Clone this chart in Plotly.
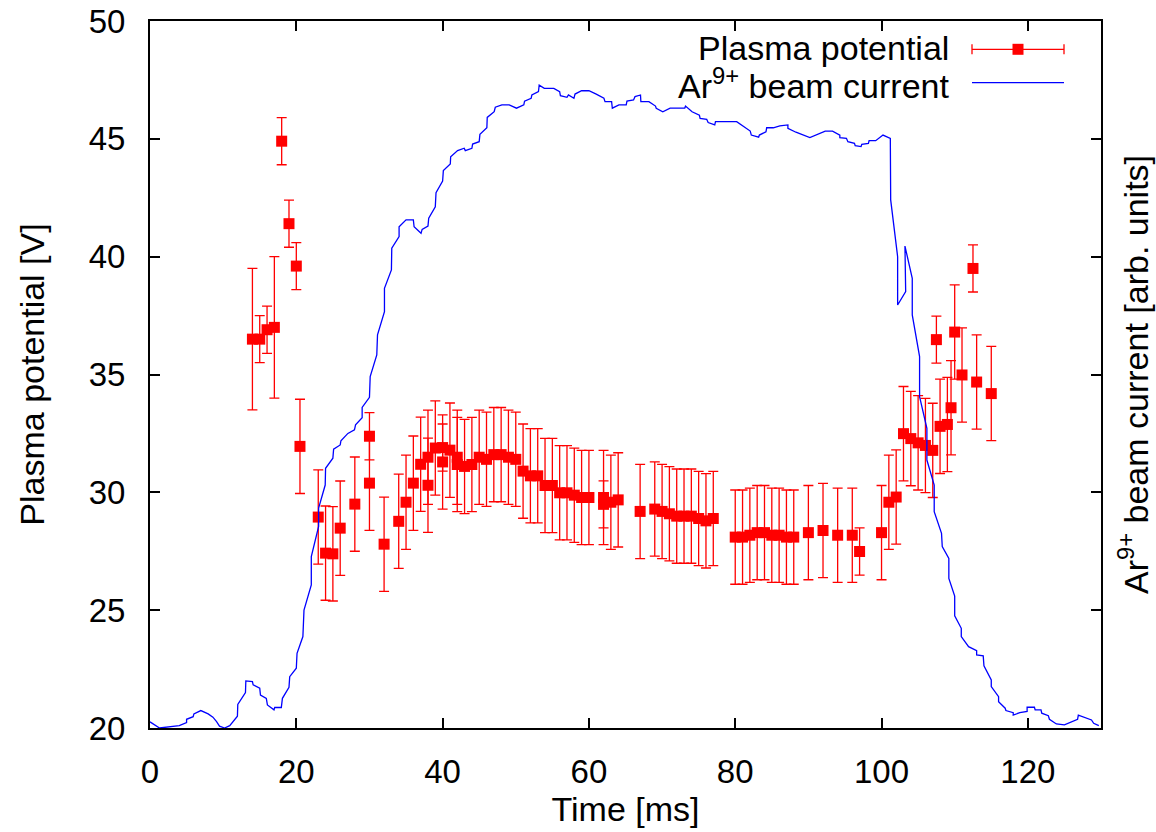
import plotly.graph_objects as go

# ---- Plasma potential measurements ----
pp_time = [14, 15, 16, 17, 18, 19, 20, 20.5, 23, 24, 25, 26, 28, 30, 30, 32, 34, 35, 36, 37,
           38, 38, 39, 40, 40, 41, 42, 42, 43, 44, 45, 46, 47, 48, 49, 50, 51, 52, 53, 54,
           55, 56, 57, 58, 59, 60, 62, 62, 63, 64, 67, 69, 70, 71, 72, 73, 74, 75, 76, 77,
           80, 81, 82, 83, 84, 85, 86, 87, 88, 90, 92, 94, 96, 97, 100, 101, 102, 103, 104, 105,
           106, 107, 107.5, 108, 109, 109.5, 110, 111, 112.5, 113, 115]
pp_value = [36.5, 36.5, 36.9, 37.0, 44.9, 41.4, 39.6, 31.95, 28.95, 27.42, 27.39, 28.48, 29.5, 32.38, 30.39, 27.8, 28.77, 29.58, 30.39, 31.19,
            30.3, 31.49, 31.88, 31.9, 31.29, 31.79, 31.49, 31.18, 31.1, 31.18, 31.49, 31.4, 31.6, 31.6, 31.49, 31.4, 30.9, 30.7, 30.7, 30.29,
            30.29, 29.98, 29.98, 29.88, 29.78, 29.78, 29.78, 29.49, 29.58, 29.68, 29.19, 29.29, 29.19, 29.09, 28.99, 28.99, 28.99, 28.89, 28.79, 28.89,
            28.1, 28.1, 28.18, 28.29, 28.29, 28.18, 28.18, 28.1, 28.1, 28.29, 28.38, 28.18, 28.18, 27.49, 28.29, 29.58, 29.8, 32.49, 32.28, 32.1,
            31.99, 31.78, 36.48, 32.8, 32.88, 33.59, 36.8, 34.98, 39.5, 34.68, 34.19]
pp_error = [3, 1, 1, 3, 1, 1, 1, 2, 2, 2, 2, 2, 2, 1, 2, 2, 2, 2, 2, 2,
            2, 2, 2, 1, 2, 2, 2, 2, 2, 2, 2, 2, 2, 2, 2, 2, 2, 2, 2, 2,
            2, 2, 2, 2, 2, 2, 2, 1, 2, 2, 2, 2, 2, 2, 2, 2, 2, 2, 2, 2,
            2, 2, 2, 2, 2, 2, 2, 2, 2, 2, 2, 2, 2, 1, 2, 2, 2, 2, 2, 2,
            2, 2, 1, 2, 2, 2, 2, 2, 1, 2, 2]

# ---- Ar9+ beam current (arb. units, plotted on right axis scaled 20..50) ----
bc_time = [0.0, 1.3, 4.0, 5.0, 5.0, 5.9, 6.0, 6.95, 7.95, 8.6, 9.1, 9.5, 10.2, 10.9, 11.95, 12.0, 13.05, 13.1,
           14.0, 14.1, 15.0, 15.1, 15.9, 16.05, 16.95, 17.05, 17.95, 18.1, 19.0, 19.1, 20.0, 20.1, 20.9, 21.05,
           22.05, 22.05, 23.05, 23.05, 23.95, 24.0, 25.0, 25.1, 26.0, 26.1, 27.05, 27.95, 28.1, 29.0, 29.0, 30.0,
           30.1, 31.0, 31.1, 32.05, 32.05, 33.0, 33.05, 34.05, 34.05, 35.0, 36.0, 36.1, 37.05, 37.2, 38.0, 38.1,
           39.0, 39.1, 40.0, 40.1, 41.05, 41.1, 42.05, 42.95, 43.1, 44.0, 44.1, 45.0, 45.1, 46.05, 46.1, 47.05,
           47.2, 48.1, 49.1, 50.1, 51.1, 51.2, 52.1, 52.2, 53.1, 53.2, 53.9, 55.2, 56.0, 56.1, 57.0, 57.2, 57.95,
           58.1, 59.0, 60.0, 61.0, 62.05, 62.2, 63.1, 63.2, 64.1, 65.1, 65.2, 66.1, 66.3, 67.05, 67.1, 68.2, 69.1,
           69.2, 70.1, 71.1, 73.1, 73.2, 74.1, 75.1, 75.2, 76.1, 76.3, 77.2, 77.3, 80.2, 81.1, 82.05, 82.2, 83.2,
           83.3, 84.2, 84.3, 85.2, 86.1, 87.2, 87.2, 88.3, 90.2, 92.3, 93.3, 94.3, 94.3, 95.2, 95.4, 96.3, 96.4,
           97.2, 97.3, 98.2, 98.3, 99.2, 100.2, 101.2, 101.25, 102.2, 102.2, 103.3, 103.2, 104.2, 104.2, 105.2,
           105.2, 106.2, 106.2, 107.2, 107.2, 108.2, 108.3, 109.2, 109.2, 110.0, 110.0, 110.9, 110.9, 111.9,
           113.0, 113.0, 113.9, 114.0, 115.0, 115.0, 116.0, 116.0, 116.9, 117.0, 118.0, 118.0, 118.9, 119.9,
           119.9, 120.9, 121.0, 121.8, 121.9, 122.8, 122.95, 123.9, 125.0, 125.9, 126.8, 126.9, 127.7, 128.7,
           129.0, 129.7]
bc_value = [20.26, 20.0, 20.1, 20.23, 20.37, 20.48, 20.6, 20.74, 20.6, 20.46, 20.27, 20.08, 20.0, 20.1, 20.5, 21.0, 21.5, 22.0,
            21.97, 21.83, 21.69, 21.4, 21.26, 20.98, 20.77, 20.87, 20.87, 21.26, 21.73, 22.18, 22.54, 23.17, 23.88, 25.0,
            26.07, 27.27, 28.55, 29.33, 30.31, 31.02, 31.45, 31.83, 32.01, 32.19, 32.5, 32.65, 32.86, 33.17, 33.6, 34.03,
            34.91, 35.83, 36.68, 37.67, 38.66, 39.44, 40.36, 40.85, 41.27, 41.56, 41.56, 41.27, 40.99, 41.16, 41.3, 41.63,
            42.12, 42.72, 43.21, 43.65, 43.93, 44.24, 44.5, 44.6, 44.5, 44.6, 44.78, 44.88, 45.19, 45.47, 45.91, 46.15,
            46.34, 46.44, 46.44, 46.3, 46.44, 46.6, 46.72, 46.86, 47.0, 47.28, 47.14, 47.14, 47.0, 46.83, 46.76, 46.86, 46.72,
            46.9, 47.04, 47.04, 46.9, 46.72, 46.58, 46.58, 46.3, 46.44, 46.44, 46.6, 46.65, 46.79, 46.86, 46.58, 46.58, 46.39,
            46.3, 46.15, 46.3, 46.3, 46.39, 46.15, 46.0, 45.87, 45.83, 45.69, 45.59, 45.73, 45.73, 45.52, 45.33, 45.16, 45.07,
            45.16, 45.3, 45.47, 45.47, 45.55, 45.59, 45.45, 45.28, 45.05, 45.33, 45.33, 45.16, 45.05, 45.02, 44.88, 44.81, 44.71,
            44.67, 44.77, 44.81, 44.92, 44.92, 45.16, 45.02, 42.41, 40.0, 37.95, 38.52, 40.45, 39.08, 37.53, 35.76,
            34.06, 32.72, 31.37, 30.31, 29.18, 28.26, 27.7, 27.2, 26.35, 25.6, 24.76, 24.23, 23.88, 23.45,
            23.28, 23.1, 23.06, 22.64, 22.04, 21.76, 21.33, 21.12, 20.84, 20.74, 20.65, 20.55, 20.65, 20.7,
            20.88, 20.88, 20.77, 20.77, 20.63, 20.52, 20.37, 20.17, 20.13, 20.24, 20.37, 20.55, 20.46, 20.34,
            20.2, 20.1]

x_ticks = [0, 20, 40, 60, 80, 100, 120]
y_ticks = [20, 25, 30, 35, 40, 45, 50]

FONT = "Liberation Sans, Arial, Helvetica, sans-serif"
RED = "#ff0000"
BLUE = "#0000ff"
TICK_SIZE = 33
TITLE_SIZE = 34

fig = go.Figure()

fig.add_trace(go.Scatter(
    x=pp_time, y=pp_value, mode="markers", name="Plasma potential",
    marker=dict(symbol="square", size=11, color=RED),
    error_y=dict(type="data", array=pp_error, visible=True, color=RED, thickness=1.3, width=5),
    showlegend=False, cliponaxis=False,
))

fig.add_trace(go.Scatter(
    x=bc_time, y=bc_value, mode="lines", name="Ar9+ beam current",
    line=dict(color=BLUE, width=1.3), yaxis="y2", showlegend=False,
))

L, R, T, B = 150, 1101, 21, 728
W, H = 1156, 832

def px(xp):
    return (xp - L) / (R - L)

def py(yp):
    return (B - yp) / (B - T)

shapes = []
# legend sample: plasma potential (error bar + marker)
ly1 = 49.3
shapes.append(dict(type="line", xref="paper", yref="paper", x0=px(972), x1=px(1064), y0=py(ly1), y1=py(ly1),
                   line=dict(color=RED, width=1.3)))
for xc in (972, 1064):
    shapes.append(dict(type="line", xref="paper", yref="paper", x0=px(xc), x1=px(xc), y0=py(ly1 - 5), y1=py(ly1 + 5),
                       line=dict(color=RED, width=1.3)))
shapes.append(dict(type="rect", xref="paper", yref="paper", x0=px(1018 - 5.5), x1=px(1018 + 5.5),
                   y0=py(ly1 + 5.5), y1=py(ly1 - 5.5), fillcolor=RED, line=dict(width=0)))
# legend sample: beam current
ly2 = 82.7
shapes.append(dict(type="line", xref="paper", yref="paper", x0=px(972), x1=px(1064), y0=py(ly2), y1=py(ly2),
                   line=dict(color=BLUE, width=1.3)))

annotations = [
    dict(text="Plasma potential", xref="paper", yref="paper", x=px(951), y=py(48), xanchor="right",
         yanchor="middle", showarrow=False, font=dict(size=TITLE_SIZE, color="black", family=FONT)),
    dict(text="Ar<sup>9+</sup> beam current", xref="paper", yref="paper", x=px(951), y=py(84), xanchor="right",
         yanchor="middle", showarrow=False, font=dict(size=TITLE_SIZE, color="black", family=FONT)),
]

axis_common = dict(
    showline=True, linecolor="black", linewidth=2,
    ticks="inside", ticklen=10, tickwidth=2, tickcolor="black",
    showgrid=False, zeroline=False, automargin=False,
    tickfont=dict(size=TICK_SIZE, color="black", family=FONT),
)

fig.update_layout(
    width=W, height=H,
    margin=dict(l=L, r=W - R, t=T, b=H - B, autoexpand=False),
    paper_bgcolor="white", plot_bgcolor="white",
    font=dict(family=FONT, color="black"),
    xaxis=dict(range=[0, 130], tickvals=x_ticks, mirror="ticks", ticklabelstandoff=13,
               title=dict(text="Time [ms]", font=dict(size=TITLE_SIZE, family=FONT), standoff=4),
               **axis_common),
    yaxis=dict(range=[20, 50], tickvals=y_ticks, mirror=False, ticklabelstandoff=16,
               title=dict(text="Plasma potential [V]", font=dict(size=TITLE_SIZE, family=FONT), standoff=34),
               **axis_common),
    yaxis2=dict(range=[20, 50], tickvals=y_ticks, overlaying="y", side="right", showticklabels=False,
                title=dict(text="Ar<sup>9+</sup> beam current [arb. units]", font=dict(size=TITLE_SIZE, family=FONT),
                           standoff=22),
                **axis_common),
    shapes=shapes,
    annotations=annotations,
)

fig.write_html("out.html")
